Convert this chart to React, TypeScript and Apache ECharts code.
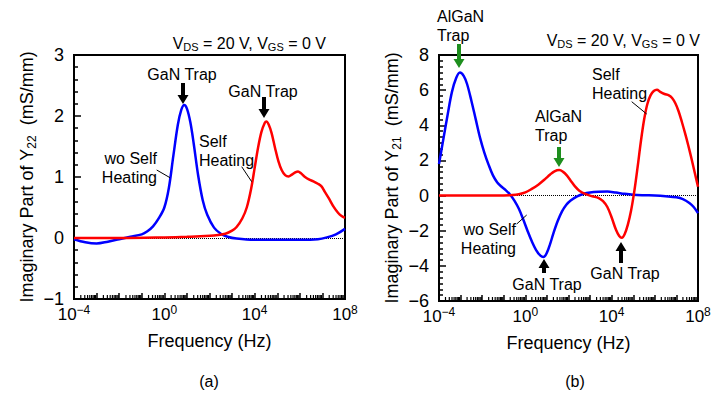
import React, { useEffect, useRef } from "react";
import * as echarts from "echarts";

const FONT = '"Liberation Sans", Arial, Helvetica, sans-serif';

// x values are log10(frequency / Hz)
const y22WoSelfHeating: [number, number][] = [
  [-4.0, -0.02], [-3.5, -0.07], [-3.0, -0.09], [-2.5, -0.06], [-2.0, -0.02], [-1.5, 0.02],
  [-1.0, 0.06], [-0.75, 0.11], [-0.5, 0.19], [-0.25, 0.32], [0.0, 0.5], [0.2, 0.82],
  [0.4, 1.35], [0.6, 1.86], [0.75, 2.1], [0.88, 2.18], [1.0, 2.12], [1.15, 1.9],
  [1.3, 1.55], [1.5, 1.02], [1.7, 0.62], [1.9, 0.38], [2.2, 0.17], [2.5, 0.07],
  [2.8, 0.02], [3.2, -0.01], [4.0, -0.03], [5.0, -0.03], [6.0, -0.03], [6.8, -0.02],
  [7.2, 0.01], [7.6, 0.06], [8.0, 0.15],
];
const y22SelfHeating: [number, number][] = [
  [-4.0, 0.0], [-2.0, 0.0], [0.0, 0.01], [1.0, 0.02], [1.6, 0.03], [2.2, 0.04],
  [2.7, 0.07], [3.0, 0.12], [3.2, 0.18], [3.45, 0.32], [3.65, 0.5], [3.85, 0.82],
  [4.0, 1.15], [4.15, 1.48], [4.3, 1.74], [4.45, 1.89], [4.52, 1.91], [4.62, 1.86],
  [4.75, 1.72], [4.9, 1.48], [5.05, 1.26], [5.2, 1.11], [5.35, 1.03], [5.5, 1.01],
  [5.65, 1.04], [5.82, 1.08], [5.92, 1.09], [6.05, 1.06], [6.2, 1.01], [6.4, 0.96],
  [6.6, 0.93], [6.8, 0.89], [6.95, 0.85], [7.1, 0.76], [7.3, 0.64], [7.5, 0.51],
  [7.7, 0.41], [7.85, 0.36], [8.0, 0.33],
];
const y21WoSelfHeating: [number, number][] = [
  [-4.0, 1.8], [-3.8, 3.2], [-3.6, 4.6], [-3.4, 5.9], [-3.2, 6.7], [-3.03, 7.0],
  [-2.85, 6.8], [-2.7, 6.35], [-2.5, 5.4], [-2.3, 4.35], [-2.1, 3.3], [-1.9, 2.45],
  [-1.7, 1.75], [-1.5, 1.15], [-1.3, 0.75], [-1.1, 0.5], [-0.9, 0.3], [-0.7, 0.05],
  [-0.5, -0.3], [-0.3, -0.75], [-0.1, -1.35], [0.1, -2.0], [0.3, -2.6], [0.5, -3.1],
  [0.7, -3.42], [0.84, -3.5], [1.0, -3.25], [1.15, -2.75], [1.3, -2.15], [1.5, -1.45],
  [1.7, -0.9], [1.9, -0.52], [2.1, -0.28], [2.4, -0.05], [2.7, 0.1], [3.0, 0.18],
  [3.4, 0.22], [3.8, 0.23], [4.2, 0.17], [4.6, 0.1], [5.0, 0.05], [5.5, 0.02],
  [6.0, 0.0], [6.5, -0.04], [7.0, -0.1], [7.3, -0.2], [7.6, -0.42], [7.8, -0.65],
  [8.0, -1.0],
];
const y21SelfHeating: [number, number][] = [
  [-4.0, 0.0], [-2.0, 0.0], [-1.0, 0.01], [-0.6, 0.03], [-0.3, 0.08], [0.0, 0.18],
  [0.3, 0.38], [0.6, 0.62], [0.9, 0.92], [1.15, 1.2], [1.35, 1.38], [1.57, 1.45],
  [1.75, 1.35], [1.92, 1.15], [2.1, 0.85], [2.3, 0.52], [2.5, 0.28], [2.8, 0.08],
  [3.1, -0.04], [3.4, -0.14], [3.6, -0.32], [3.8, -0.65], [4.0, -1.25], [4.2, -1.95],
  [4.35, -2.3], [4.47, -2.4], [4.6, -2.2], [4.75, -1.65], [4.9, -0.85], [5.05, 0.25],
  [5.2, 1.6], [5.35, 3.05], [5.5, 4.3], [5.65, 5.2], [5.8, 5.7], [5.95, 5.95],
  [6.1, 6.02], [6.25, 5.9], [6.45, 5.78], [6.65, 5.7], [6.8, 5.55], [6.95, 5.25],
  [7.1, 4.8], [7.25, 4.2], [7.4, 3.55], [7.55, 2.85], [7.7, 2.1], [7.85, 1.3],
  [8.0, 0.5],
];

const xExpMin = -4;
const xExpMax = 8;
const xLabelExponents = [-4, 0, 4, 8];
const y22Range = { min: -1, max: 3, interval: 1, minorSplit: 5 };
const y21Range = { min: -6, max: 8, interval: 2, minorSplit: 6 };

const BLUE = "#0000ff";
const RED = "#ff0000";
const GREEN = "#1e8f1e";

function minorLogTicks(yMin: number): [number, number][] {
  const out: [number, number][] = [];
  for (let n = xExpMin; n < xExpMax; n++) {
    for (let k = 2; k <= 9; k++) out.push([n + Math.log10(k), yMin]);
  }
  return out;
}

function xAxisFor(gridIndex: number) {
  return {
    type: "value",
    gridIndex,
    min: xExpMin,
    max: xExpMax,
    interval: 1,
    name: "Frequency (Hz)",
    nameLocation: "middle",
    nameGap: 33,
    nameTextStyle: { fontSize: 18, fontFamily: FONT, color: "#000" },
    axisLine: { show: true, onZero: false, lineStyle: { color: "#000", width: 2 } },
    axisTick: { show: true, inside: true, length: 6, lineStyle: { color: "#000", width: 1.5 } },
    splitLine: { show: false },
    axisLabel: {
      margin: 5,
      color: "#000",
      fontFamily: FONT,
      showMinLabel: true,
      showMaxLabel: true,
      formatter: (v: number) => {
        const e = Math.round(v);
        if (!xLabelExponents.includes(e)) return "";
        const s = e < 0 ? "\u2212" + Math.abs(e) : String(e);
        return "{b|10}{sup|" + s + "}";
      },
      rich: {
        b: { fontSize: 17, fontFamily: FONT, color: "#000", lineHeight: 21 },
        sup: { fontSize: 12, fontFamily: FONT, color: "#000", verticalAlign: "top", lineHeight: 12 },
      },
    },
  };
}

function yAxisFor(gridIndex: number, r: typeof y22Range, sub: string) {
  return {
    type: "value",
    gridIndex,
    min: r.min,
    max: r.max,
    interval: r.interval,
    name: "{b|Imaginary Part of Y}{sub|" + sub + "}{b|  (mS/mm)}",
    nameLocation: "middle",
    nameRotate: 90,
    nameGap: 36,
    nameTextStyle: {
      fontFamily: FONT,
      color: "#000",
      rich: {
        b: { fontSize: 18, fontFamily: FONT, color: "#000", lineHeight: 22 },
        sub: { fontSize: 12, fontFamily: FONT, color: "#000", verticalAlign: "bottom", lineHeight: 12 },
      },
    },
    axisLine: { show: true, onZero: false, lineStyle: { color: "#000", width: 2 } },
    axisTick: { show: true, inside: true, length: 7, lineStyle: { color: "#000", width: 1.5 } },
    minorTick: { show: true, splitNumber: r.minorSplit, length: 4, lineStyle: { color: "#000", width: 1.5 } },
    splitLine: { show: false },
    minorSplitLine: { show: false },
    axisLabel: {
      margin: 10,
      fontSize: 18,
      fontFamily: FONT,
      color: "#000",
      formatter: (v: number) => String(v).replace("-", "\u2212"),
    },
  };
}

function curve(data: [number, number][], color: string, idx: number) {
  return {
    type: "line",
    xAxisIndex: idx,
    yAxisIndex: idx,
    data,
    showSymbol: false,
    smooth: 0.35,
    z: 3,
    lineStyle: { color, width: 2.5 },
    silent: true,
  };
}

function zeroLine(idx: number) {
  return {
    type: "line",
    xAxisIndex: idx,
    yAxisIndex: idx,
    data: [],
    z: 1,
    silent: true,
    markLine: {
      silent: true,
      z: 1,
      symbol: "none",
      label: { show: false },
      lineStyle: { type: "dotted", color: "#000", width: 1 },
      data: [{ yAxis: 0 }],
    },
  };
}

function minorTickSeries(idx: number, yMin: number) {
  return {
    type: "custom",
    xAxisIndex: idx,
    yAxisIndex: idx,
    silent: true,
    z: 4,
    clip: false,
    data: minorLogTicks(yMin),
    renderItem: (_p: any, api: any) => {
      const pt = api.coord([api.value(0), api.value(1)]);
      return {
        type: "line",
        shape: { x1: pt[0], y1: pt[1], x2: pt[0], y2: pt[1] - 4 },
        style: { stroke: "#000", lineWidth: 1.2 },
      };
    },
  };
}

function arrow(cx: number, tail: number, tip: number, color: string) {
  const dir = tip > tail ? 1 : -1;
  const base = tip - dir * 9;
  const hh = 5.5;
  const sh = 2;
  return {
    type: "polygon",
    silent: true,
    shape: {
      points: [
        [cx - sh, tail], [cx + sh, tail], [cx + sh, base], [cx + hh, base],
        [cx, tip], [cx - hh, base], [cx - sh, base],
      ],
    },
    style: { fill: color },
    z: 10,
  };
}

function txt(text: string, x: number, y: number, align: string, size = 16, lineHeight = 19, vAlign = "middle") {
  return {
    type: "text",
    x,
    y,
    silent: true,
    z: 10,
    style: {
      text,
      fontSize: size,
      fontFamily: FONT,
      fill: "#000",
      align,
      verticalAlign: vAlign,
      lineHeight,
    },
  };
}

function leader(x1: number, y1: number, x2: number, y2: number) {
  return {
    type: "line",
    silent: true,
    z: 10,
    shape: { x1, y1, x2, y2 },
    style: { stroke: "#000", lineWidth: 1 },
  };
}

function biasText(x: number, y: number) {
  return {
    type: "text",
    x,
    y,
    silent: true,
    z: 10,
    style: {
      text: "{b|V}{s|DS}{b| = 20 V, V}{s|GS}{b| = 0 V}",
      align: "right",
      verticalAlign: "middle",
      rich: {
        b: { fontSize: 16, fontFamily: FONT, fill: "#000", lineHeight: 18 },
        s: { fontSize: 11, fontFamily: FONT, fill: "#000", verticalAlign: "bottom", lineHeight: 11 },
      },
    },
  };
}

export default function App() {
  const ref = useRef<HTMLDivElement>(null);
  useEffect(() => {
    if (!ref.current) return;
    const chart = echarts.init(ref.current, undefined, { renderer: "svg" });
    const option: any = {
      animation: false,
      backgroundColor: "#ffffff",
      textStyle: { fontFamily: FONT },
      grid: [
        { left: 74, top: 55, width: 271, height: 244, show: true, borderColor: "#000", borderWidth: 2, containLabel: false, outerBoundsMode: "none" },
        { left: 439, top: 55, width: 259, height: 246, show: true, borderColor: "#000", borderWidth: 2, containLabel: false, outerBoundsMode: "none" },
      ],
      xAxis: [xAxisFor(0), xAxisFor(1)],
      yAxis: [yAxisFor(0, y22Range, "22"), yAxisFor(1, y21Range, "21")],
      series: [
        zeroLine(0),
        curve(y22WoSelfHeating, BLUE, 0),
        curve(y22SelfHeating, RED, 0),
        minorTickSeries(0, y22Range.min),
        zeroLine(1),
        curve(y21WoSelfHeating, BLUE, 1),
        curve(y21SelfHeating, RED, 1),
        minorTickSeries(1, y21Range.min),
      ],
      graphic: [
        biasText(326, 43),
        txt("GaN Trap", 182, 74, "center"),
        arrow(183, 83, 104, "#000"),
        txt("GaN Trap", 263, 91, "center"),
        arrow(264, 97, 118, "#000"),
        txt("Self\nHeating", 199, 131.5, "left", 16, 19, "top"),
        leader(241.7, 166.7, 251.7, 181.7),
        txt("wo Self\nHeating", 157, 148.5, "right", 16, 19, "top"),
        leader(156.7, 170, 170, 177.7),
        txt("(a)", 209, 381, "center", 16),
        txt("AlGaN\nTrap", 437, 6.5, "left", 16, 19, "top"),
        arrow(459, 44, 68, GREEN),
        biasText(700, 40),
        txt("Self\nHeating", 592, 64.5, "left", 16, 19, "top"),
        leader(631.7, 101.7, 646.7, 114),
        txt("AlGaN\nTrap", 535, 106.5, "left", 16, 19, "top"),
        arrow(559, 147, 167, GREEN),
        txt("wo Self\nHeating", 516, 219.5, "right", 16, 19, "top"),
        leader(516.7, 224, 526.7, 215),
        arrow(544, 273, 259, "#000"),
        txt("GaN Trap", 547, 284, "center"),
        arrow(621, 263, 242, "#000"),
        txt("GaN Trap", 625, 273, "center"),
        txt("(b)", 575, 381, "center", 16),
      ],
    };
    chart.setOption(option);
    return () => chart.dispose();
  }, []);
  return (
    <div
      ref={ref}
      style={{ position: "absolute", left: 0, top: 0, width: 724, height: 395, background: "#fff" }}
    />
  );
}
